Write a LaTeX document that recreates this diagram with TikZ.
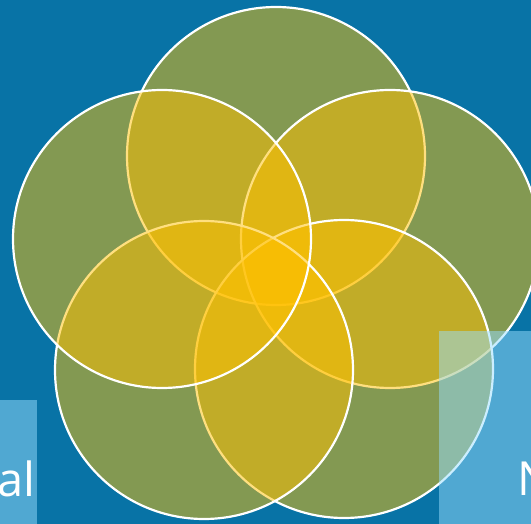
\documentclass[tikz,border=0pt]{standalone}
\usepackage{fontspec}
\setmainfont{Open Sans}
\usepackage{xcolor}
\usetikzlibrary{positioning}
\definecolor{slideblue}{RGB}{8,115,166}
\definecolor{petal}{RGB}{255,192,0}
\definecolor{tagblue}{RGB}{152,222,255}

\begin{document}
\begin{tikzpicture}[x=1pt,y=-1pt]
\tikzset{petalcircle/.style={fill=petal,fill opacity=0.5,draw=white,draw opacity=1,line width=2.2pt},
  tagbox/.style={fill=tagblue,fill opacity=0.5,draw=none},
  tagtext/.style={text=white,inner sep=0pt,anchor=base west,font=\fontsize{47}{56}\selectfont}}
\fill[slideblue,use as bounding box](0,0) rectangle (531,524);
\clip (0,0) rectangle (531,524);
\coordinate (top) at (276,156);
\coordinate (right) at (390,239);
\coordinate (lowright) at (344,369);
\coordinate (lowleft) at (204,370);
\coordinate (left) at (162,239);
\foreach \c in {top,right,lowright,lowleft,left}
  \draw[petalcircle] (\c) circle[radius=149pt];
\fill[tagbox] (0,400) rectangle (37,524);
\fill[tagbox] (439,331) rectangle (531,524);
\node[tagtext] (lefttag) at (-3,496) {al};
\node[tagtext] (righttag) at (517,495) {N};
\end{tikzpicture}
\end{document}
